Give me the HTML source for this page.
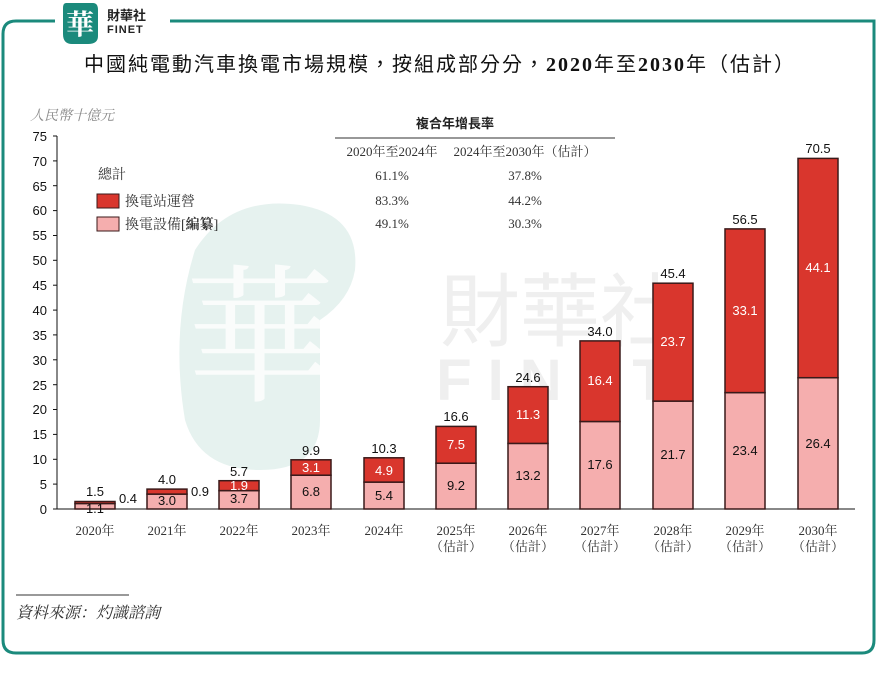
<!DOCTYPE html>
<html><head><meta charset="utf-8"><style>
html,body{margin:0;padding:0;background:#fff;}
svg{display:block;font-family:"Liberation Sans","Noto Sans CJK TC",sans-serif;}
.s{font-family:"Liberation Serif","Noto Serif CJK SC",serif;}
</style></head><body>
<svg width="877" height="675" viewBox="0 0 877 675" xmlns="http://www.w3.org/2000/svg">
<path d="M55 21 H16 Q3 21 3 34 V640 Q3 653 16 653 H862 Q874 653 874 640 V21 H170" fill="none" stroke="#1b8a7c" stroke-width="3"/>
<path d="M66 3 H93 Q98 3 98 10 V36 Q98 44 88 44 H72 Q63 44 63 34 V8 Q63 3 66 3Z" fill="#1b8a7c"/>
<text x="80" y="34" font-size="28" fill="#fff" text-anchor="middle" class="s" font-weight="bold">華</text>
<text x="107" y="20" font-size="13" font-weight="bold" fill="#222">財華社</text>
<text x="107" y="33" font-size="11" font-weight="bold" fill="#222" letter-spacing="1">FINET</text>
<path d="M195 250 Q230 195 300 205 Q360 215 355 270 Q350 300 320 320 L320 420 Q320 470 260 470 Q200 470 185 420 Q170 330 195 250Z" fill="#e6f2ef"/>
<text x="260" y="390" font-size="150" fill="#fff" text-anchor="middle" class="s" opacity="0.8">華</text>
<text x="560" y="340" font-size="80" fill="#efefef" text-anchor="middle">財華社</text>
<text x="560" y="400" font-size="58" fill="#efefef" text-anchor="middle" font-weight="bold" letter-spacing="16">FINET</text>
<text x="440" y="71" font-size="20" fill="#111" text-anchor="middle" letter-spacing="2">中國純電動汽車換電市場規模，按組成部分分，<tspan class="s" font-weight="bold">2020</tspan>年至<tspan class="s" font-weight="bold">2030</tspan>年（估計）</text>
<text x="30" y="120" font-size="14" fill="#888" font-style="italic" class="s">人民幣十億元</text>
<g font-size="13" fill="#111" text-anchor="end">
<line x1="57" y1="136" x2="57" y2="509" stroke="#111"/>
<line x1="57" y1="509" x2="855" y2="509" stroke="#111"/>
<g stroke="#111">
<line x1="53" x2="57" y1="509" y2="509"/><line x1="53" x2="57" y1="484.1" y2="484.1"/><line x1="53" x2="57" y1="459.3" y2="459.3"/><line x1="53" x2="57" y1="434.4" y2="434.4"/><line x1="53" x2="57" y1="409.5" y2="409.5"/><line x1="53" x2="57" y1="384.7" y2="384.7"/><line x1="53" x2="57" y1="359.8" y2="359.8"/><line x1="53" x2="57" y1="334.9" y2="334.9"/><line x1="53" x2="57" y1="310.1" y2="310.1"/><line x1="53" x2="57" y1="285.2" y2="285.2"/><line x1="53" x2="57" y1="260.3" y2="260.3"/><line x1="53" x2="57" y1="235.5" y2="235.5"/><line x1="53" x2="57" y1="210.6" y2="210.6"/><line x1="53" x2="57" y1="185.7" y2="185.7"/><line x1="53" x2="57" y1="160.9" y2="160.9"/><line x1="53" x2="57" y1="136" y2="136"/>
</g>
<text x="47" y="514">0</text><text x="47" y="489">5</text><text x="47" y="464">10</text><text x="47" y="439">15</text><text x="47" y="414">20</text><text x="47" y="390">25</text><text x="47" y="365">30</text><text x="47" y="340">35</text><text x="47" y="315">40</text><text x="47" y="290">45</text><text x="47" y="265">50</text><text x="47" y="240">55</text><text x="47" y="215">60</text><text x="47" y="191">65</text><text x="47" y="166">70</text><text x="47" y="141">75</text>
</g>
<text x="98" y="179" font-size="14" fill="#333" class="s">總計</text>
<rect x="97" y="194" width="22" height="14" fill="#d9362d" stroke="#3a1a1a"/>
<text x="125" y="206" font-size="14" fill="#333" class="s">換電站運營</text>
<rect x="97" y="217" width="22" height="14" fill="#f5aeae" stroke="#3a1a1a"/>
<text x="125" y="229" font-size="14" fill="#333" class="s">換電設備[<tspan font-weight="bold">編纂</tspan>]</text>
<text x="455" y="128" font-size="13" fill="#222" text-anchor="middle" font-weight="bold">複合年增長率</text>
<line x1="335" y1="138" x2="615" y2="138" stroke="#777" stroke-width="1.5"/>
<g font-size="13" fill="#333" class="s" text-anchor="middle">
<text x="392" y="156">2020年至2024年</text><text x="525" y="156">2024年至2030年（估計）</text>
<text x="392" y="180">61.1%</text><text x="525" y="180">37.8%</text>
<text x="392" y="205">83.3%</text><text x="525" y="205">44.2%</text>
<text x="392" y="228">49.1%</text><text x="525" y="228">30.3%</text>
</g>
<g stroke="#3a1a1a" stroke-width="1.5">
<rect x="75" y="503.5" width="40" height="5.5" fill="#f5aeae"/><rect x="75" y="501.5" width="40" height="2" fill="#d9362d"/>
<rect x="147" y="494.1" width="40" height="14.9" fill="#f5aeae"/><rect x="147" y="489.1" width="40" height="5" fill="#d9362d"/>
<rect x="219" y="490.6" width="40" height="18.4" fill="#f5aeae"/><rect x="219" y="480.7" width="40" height="9.9" fill="#d9362d"/>
<rect x="291" y="475.2" width="40" height="33.8" fill="#f5aeae"/><rect x="291" y="459.8" width="40" height="15.4" fill="#d9362d"/>
<rect x="364" y="482.1" width="40" height="26.9" fill="#f5aeae"/><rect x="364" y="457.8" width="40" height="24.3" fill="#d9362d"/>
<rect x="436" y="463.2" width="40" height="45.8" fill="#f5aeae"/><rect x="436" y="426.4" width="40" height="36.8" fill="#d9362d"/>
<rect x="508" y="443.4" width="40" height="65.6" fill="#f5aeae"/><rect x="508" y="386.7" width="40" height="56.7" fill="#d9362d"/>
<rect x="580" y="421.5" width="40" height="87.5" fill="#f5aeae"/><rect x="580" y="340.9" width="40" height="80.6" fill="#d9362d"/>
<rect x="653" y="401.1" width="40" height="107.9" fill="#f5aeae"/><rect x="653" y="283.2" width="40" height="117.9" fill="#d9362d"/>
<rect x="725" y="392.6" width="40" height="116.4" fill="#f5aeae"/><rect x="725" y="228.9" width="40" height="163.7" fill="#d9362d"/>
<rect x="798" y="377.7" width="40" height="131.3" fill="#f5aeae"/><rect x="798" y="158.4" width="40" height="219.3" fill="#d9362d"/>
</g>
<g font-size="13" fill="#111" text-anchor="middle">
<text x="95" y="496">1.5</text><text x="128" y="503">0.4</text><text x="95" y="513">1.1</text>
<text x="167" y="484">4.0</text><text x="200" y="496">0.9</text><text x="167" y="505">3.0</text>
<text x="239" y="476">5.7</text><text x="239" y="490" fill="#fff">1.9</text><text x="239" y="503">3.7</text>
<text x="311" y="455">9.9</text><text x="311" y="472" fill="#fff">3.1</text><text x="311" y="496">6.8</text>
<text x="384" y="453">10.3</text><text x="384" y="475" fill="#fff">4.9</text><text x="384" y="500">5.4</text>
<text x="456" y="421">16.6</text><text x="456" y="449" fill="#fff">7.5</text><text x="456" y="490">9.2</text>
<text x="528" y="382">24.6</text><text x="528" y="419" fill="#fff">11.3</text><text x="528" y="480">13.2</text>
<text x="600" y="336">34.0</text><text x="600" y="385" fill="#fff">16.4</text><text x="600" y="469">17.6</text>
<text x="673" y="278">45.4</text><text x="673" y="346" fill="#fff">23.7</text><text x="673" y="459">21.7</text>
<text x="745" y="224">56.5</text><text x="745" y="315" fill="#fff">33.1</text><text x="745" y="455">23.4</text>
<text x="818" y="153">70.5</text><text x="818" y="272" fill="#fff">44.1</text><text x="818" y="448">26.4</text>
</g>
<g font-size="13" fill="#333" class="s" text-anchor="middle">
<text x="95" y="535">2020年</text><text x="167" y="535">2021年</text><text x="239" y="535">2022年</text><text x="311" y="535">2023年</text><text x="384" y="535">2024年</text>
<text x="456" y="535">2025年</text><text x="456" y="551">（估計）</text>
<text x="528" y="535">2026年</text><text x="528" y="551">（估計）</text>
<text x="600" y="535">2027年</text><text x="600" y="551">（估計）</text>
<text x="673" y="535">2028年</text><text x="673" y="551">（估計）</text>
<text x="745" y="535">2029年</text><text x="745" y="551">（估計）</text>
<text x="818" y="535">2030年</text><text x="818" y="551">（估計）</text>
</g>
<line x1="16" y1="595" x2="129" y2="595" stroke="#333"/>
<text x="16" y="618" font-size="16" fill="#333" font-style="italic" class="s">資料來源：灼識諮詢</text>
</svg>
</body></html>
